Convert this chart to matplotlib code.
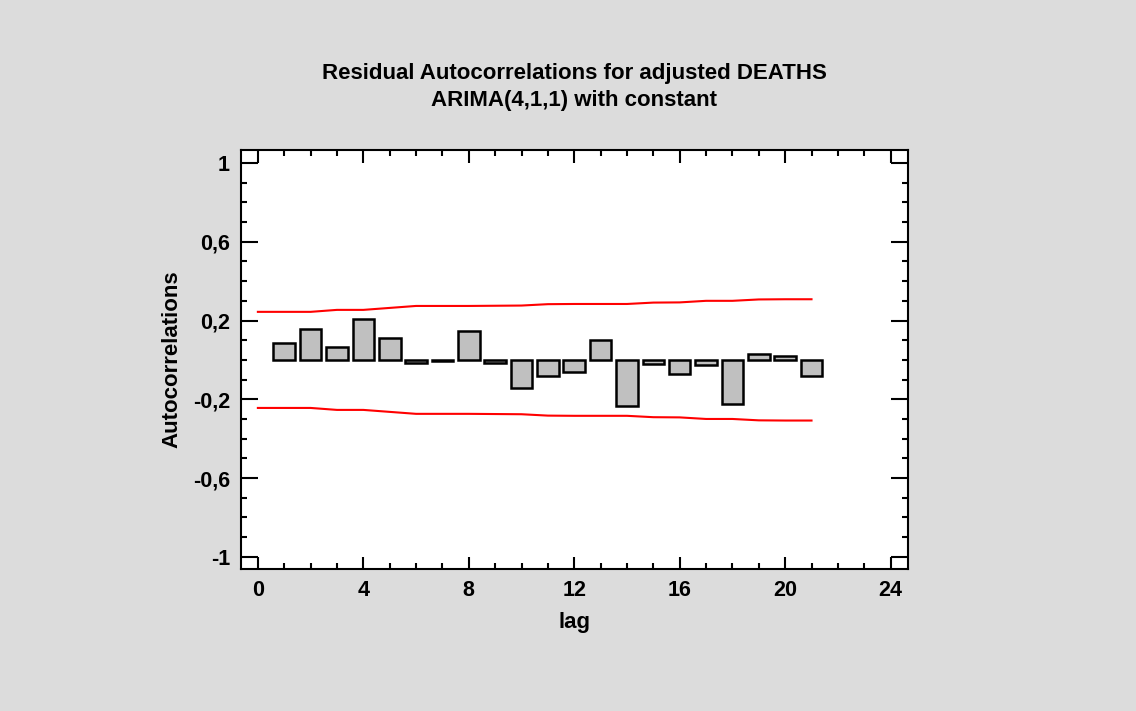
import numpy as np
import matplotlib
matplotlib.use("Agg")
import matplotlib.pyplot as plt
from matplotlib.ticker import MultipleLocator, FuncFormatter

# residual autocorrelations by lag
lags = list(range(1, 22))
acf = [0.085, 0.156, 0.064, 0.208, 0.110, -0.017, -0.008, 0.147, -0.017, -0.144,
       -0.081, -0.062, 0.100, -0.233, -0.019, -0.071, -0.027, -0.223, 0.030, 0.020, -0.080]

# probability limits, lag 0..21
limit_lags = list(range(0, 22))
limits = [0.244, 0.244, 0.244, 0.254, 0.254, 0.264, 0.274, 0.274, 0.274, 0.275, 0.276,
          0.283, 0.284, 0.284, 0.284, 0.291, 0.292, 0.300, 0.300, 0.307, 0.308, 0.308]

title = "Residual Autocorrelations for adjusted DEATHS\nARIMA(4,1,1) with constant"

plt.rcParams['font.family'] = ['Liberation Sans', 'DejaVu Sans']
plt.rcParams['font.weight'] = 'bold'

fig = plt.figure(figsize=(11.36, 7.11), dpi=100, facecolor='#dcdcdc')
ax = fig.add_axes([241 / 1136, 1 - 569 / 711, (908 - 241) / 1136, (569 - 150) / 711])
ax.set_facecolor('white')

ax.bar(lags, acf, width=0.82, color='#c0c0c0', edgecolor='black', linewidth=1.8)
lim = np.array(limits)
ax.plot(limit_lags, lim, color='red', linewidth=1.5)
ax.plot(limit_lags, -lim, color='red', linewidth=1.5)

ax.set_xlim(-0.64, 24.66)
ax.set_ylim(-1.062, 1.066)

ax.xaxis.set_major_locator(MultipleLocator(4))
ax.xaxis.set_minor_locator(MultipleLocator(1))
ax.yaxis.set_minor_locator(MultipleLocator(0.1))
ax.set_yticks([-1, -0.6, -0.2, 0.2, 0.6, 1])

def fmt(v, pos):
    s = ('%.1f' % v).rstrip('0').rstrip('.')
    return s.replace('.', ',')
ax.yaxis.set_major_formatter(FuncFormatter(fmt))

ax.tick_params(which='both', direction='in', top=True, right=True, labelsize=15.5, width=1.5)
ax.tick_params(axis='x', which='major', length=9, pad=8)
ax.tick_params(axis='x', which='minor', length=4)
ax.tick_params(axis='y', which='major', length=12, pad=8)
ax.tick_params(axis='y', which='minor', length=4)
for sp in ax.spines.values():
    sp.set_linewidth(1.5)

ax.set_xlabel('lag', fontsize=16, fontweight='bold', labelpad=8)
ax.set_ylabel('Autocorrelations', fontsize=16, fontweight='bold', labelpad=7)
fig.text(574 / 1136, 1 - 87 / 711, title, ha='center', va='center',
         fontsize=16, fontweight='bold', linespacing=1.4)

fig.savefig('out.png', dpi=100, facecolor=fig.get_facecolor())
